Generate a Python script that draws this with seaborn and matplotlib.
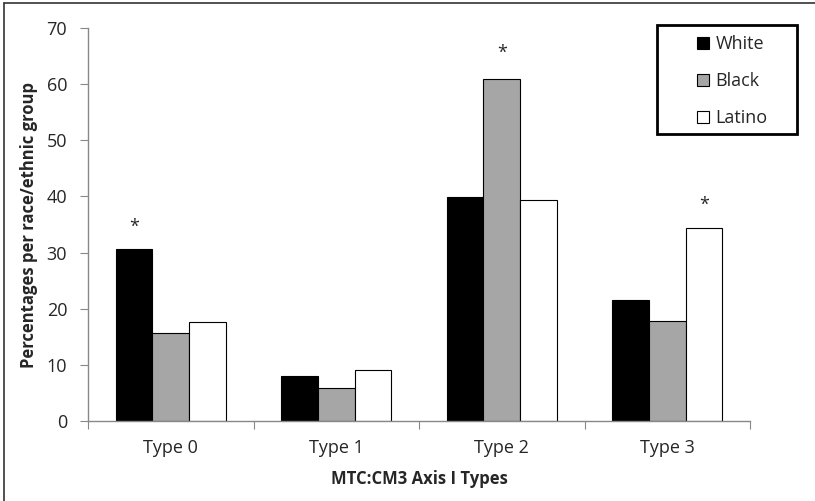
import matplotlib
matplotlib.use("Agg")
import matplotlib.pyplot as plt
import seaborn as sns
import pandas as pd
from matplotlib.lines import Line2D
from matplotlib.patches import Rectangle

# data
types = ["Type 0", "Type 1", "Type 2", "Type 3"]
groups = ["White", "Black", "Latino"]
white = [30.6, 8.1, 39.9, 21.6]
black = [15.6, 5.8, 61.0, 17.9]
latino = [17.7, 9.0, 39.3, 34.3]
# asterisks: (type index, group, height)
stars = [(0, "White", 34.5), (2, "Black", 65.5), (3, "Latino", 38.5)]

colors = {"White": "#000000", "Black": "#a6a6a6", "Latino": "#ffffff"}

df = pd.DataFrame({
    "type": types * 3,
    "group": ["White"] * 4 + ["Black"] * 4 + ["Latino"] * 4,
    "pct": white + black + latino,
})

sns.set_style("white")
plt.rcParams["font.family"] = ["Open Sans", "DejaVu Sans"]

fig = plt.figure(figsize=(8.15, 5.01), dpi=100)
ax = fig.add_axes([88 / 815, 80 / 501, 662 / 815, 393 / 501])

bw = 0.667
sns.barplot(data=df, x="type", y="pct", hue="group", hue_order=groups,
            palette=colors, width=bw, gap=0, edgecolor="black", linewidth=0.8,
            saturation=1, ax=ax, legend=False)

ax.set_ylim(0, 70)
ax.set_xlim(-0.5, 3.5)
ax.set_yticks(range(0, 71, 10))
ax.set_xticks([-0.5, 0.5, 1.5, 2.5, 3.5], minor=False)
ax.set_xticklabels([])
ax.set_xticks(range(4), minor=True)
ax.set_xticklabels(types, minor=True)
ax.tick_params(axis="x", which="minor", length=0, pad=13, labelsize=13)
ax.tick_params(axis="x", which="major", length=6, color="#888888", direction="out", bottom=True)
ax.tick_params(axis="y", length=6, color="#888888", direction="out", left=True, labelsize=13, pad=9)

for side in ["top", "right"]:
    ax.spines[side].set_visible(False)
for side in ["left", "bottom"]:
    ax.spines[side].set_color("#888888")
    ax.spines[side].set_linewidth(1)

ax.set_xlabel("MTC:CM3 Axis I Types", fontsize=12, fontweight="bold", labelpad=9)
ax.set_ylabel("Percentages per race/ethnic group", fontsize=12, fontweight="bold", labelpad=6)

off = bw / 3
for i, g, h in stars:
    x = i + (groups.index(g) - 1) * off
    ax.text(x, h, "*", ha="center", va="center", fontsize=13)

handles = [plt.Rectangle((0, 0), 1, 1, facecolor=colors[g], edgecolor="black", linewidth=0.8)
           for g in groups]
leg = fig.legend(handles, groups, loc="upper left",
                 bbox_to_anchor=(692 / 815, 1 - 30 / 501),
                 frameon=False, fontsize=13, handlelength=0.65,
                 handleheight=0.7, handletextpad=0.35, labelspacing=1.05,
                 borderpad=0.3, borderaxespad=0)

# legend box drawn separately: wide sides, tight top and bottom
fig.add_artist(Rectangle((657 / 815, 1 - 134 / 501), 140 / 815, 109 / 501,
                         transform=fig.transFigure, fill=False,
                         edgecolor="black", linewidth=2))

# outer frame (left and top edges of the original figure)
fig.add_artist(Line2D([4 / 815, 4 / 815], [0, 1 - 3 / 501], color="#333333", linewidth=1.2))
fig.add_artist(Line2D([4 / 815, 1], [1 - 3 / 501, 1 - 3 / 501], color="#333333", linewidth=1.2))

fig.savefig("out.png", dpi=100)
